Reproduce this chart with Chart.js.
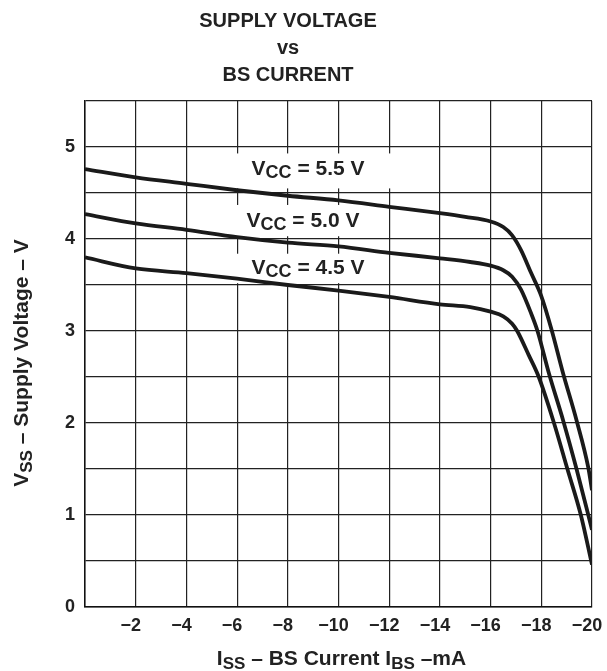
<!DOCTYPE html>
<html><head><meta charset="utf-8">
<script src="https://cdn.jsdelivr.net/npm/chart.js@4.4.1/dist/chart.umd.min.js"></script>
<style>html,body{margin:0;background:#fff}</style>
</head><body>
<canvas id="c" width="607" height="671"></canvas>
<script>
// I_BS (mA) and V_SS (V)
const iss55=[0,-2,-4,-6,-8,-10,-12,-14,-15,-16,-16.5,-16.85,-17.2,-17.6,-18,-18.4,-18.85,-19.4,-19.85,-20];
const vss55=[4.76,4.67,4.60,4.53,4.47,4.42,4.35,4.28,4.24,4.19,4.13,4.04,3.88,3.63,3.38,3.02,2.55,2.02,1.52,1.27];
const iss50=[0,-2,-4,-6,-8,-10,-12,-14,-15.2,-16,-16.5,-16.85,-17.2,-17.6,-17.85,-18.3,-18.87,-19.39,-20];
const vss50=[4.27,4.17,4.10,4.02,3.96,3.92,3.85,3.79,3.75,3.71,3.66,3.59,3.45,3.19,3.0,2.54,2.02,1.5,0.84];
const iss45=[0,-2,-4,-6,-8,-10,-12,-14,-15.2,-16,-16.5,-16.85,-17.05,-17.5,-17.9,-18.5,-19.03,-19.56,-20];
const vss45=[3.80,3.68,3.63,3.57,3.50,3.44,3.37,3.29,3.26,3.21,3.16,3.08,3.0,2.74,2.5,2.0,1.5,1.0,0.46];
const vccLabels=['5.5','5.0','4.5'];
const xTicks=[-2,-4,-6,-8,-10,-12,-14,-16,-18,-20];
const yTicks=[0,1,2,3,4,5];

const FONT='"Liberation Sans", Arial, sans-serif';
const pts=(xs,ys)=>xs.map((x,i)=>({x:x,y:ys[i]}));

// text with subscripts: parts = [text, size, drop]
function runs(ctx,parts,x,y,align){
  let w=0;
  parts.forEach(p=>{ctx.font='bold '+p[1]+'px '+FONT;w+=ctx.measureText(p[0]).width;});
  let cx = align==='center' ? x-w/2 : x;
  ctx.textAlign='left';ctx.textBaseline='middle';
  parts.forEach(p=>{
    ctx.font='bold '+p[1]+'px '+FONT;
    ctx.fillText(p[0],cx,y+p[2]);
    cx+=ctx.measureText(p[0]).width;
  });
}

const labelBoxes=[
  {x0:-5.95,x1:-12.2,y0:4.55,y1:4.93,tx:-6.57,ty:4.76},
  {x0:-5.95,x1:-11.8,y0:4.03,y1:4.37,tx:-6.37,ty:4.19},
  {x0:-5.95,x1:-11.9,y0:3.52,y1:3.84,tx:-6.57,ty:3.68}
];

const decor={
  id:'decor',
  beforeDatasetsDraw(chart){
    const {ctx,scales:{x,y}}=chart;
    ctx.save();
    labelBoxes.forEach((b,i)=>{
      ctx.fillStyle='#fff';
      const l=x.getPixelForValue(b.x0), r=x.getPixelForValue(b.x1);
      const t=y.getPixelForValue(b.y1), bt=y.getPixelForValue(b.y0);
      ctx.fillRect(l,t,r-l,bt-t);
      ctx.fillStyle='#222';
      runs(ctx,[['V',21,0],['CC',18,4],[' = '+vccLabels[i]+' V',21,0]],x.getPixelForValue(b.tx),y.getPixelForValue(b.ty),'left');
    });
    ctx.restore();
  },
  afterDraw(chart){
    const {ctx,chartArea:a}=chart;
    ctx.save();
    ctx.fillStyle='#222';
    runs(ctx,[['SUPPLY VOLTAGE',20,0]],288,21,'center');
    runs(ctx,[['vs',20,0]],288,48,'center');
    runs(ctx,[['BS CURRENT',20,0]],288,75,'center');
    runs(ctx,[['I',21,0],['SS',17,5],[' – BS Current I',21,0],['BS',17,5],[' –mA',21,0]],(a.left+a.right)/2+3,659,'center');
    ctx.translate(22,363);
    ctx.rotate(-Math.PI/2);
    runs(ctx,[['V',21,0],['SS',17,5],[' – Supply Voltage – V',21,0]],0,0,'center');
    ctx.restore();
  }
};

const line=(d)=>({data:d,showLine:true,borderColor:'#1a1a1a',borderWidth:3.8,pointRadius:0,cubicInterpolationMode:'monotone',fill:false});

new Chart(document.getElementById('c'),{
  type:'scatter',
  data:{datasets:[line(pts(iss55,vss55)),line(pts(iss50,vss50)),line(pts(iss45,vss45))]},
  options:{
    responsive:false,animation:false,
    layout:{padding:{left:0,right:15,top:101,bottom:0}},
    plugins:{legend:{display:false},tooltip:{enabled:false}},
    scales:{
      x:{type:'linear',min:-20,max:0,reverse:true,
        afterFit:s=>{s.height=64;s.paddingLeft=0;s.paddingRight=0;},
        border:{color:'#111',width:1.5},
        grid:{color:'#222',lineWidth:1.2,drawTicks:false},
        ticks:{stepSize:2,padding:8,labelOffset:-5,color:'#222',font:{family:FONT,size:18,weight:'bold'},
          callback:v=>xTicks.includes(v)?'−'+Math.abs(v):''}},
      y:{type:'linear',min:0,max:5.5,
        afterFit:s=>{s.width=85;s.paddingTop=0;s.paddingBottom=0;},
        border:{color:'#111',width:1.5},
        grid:{color:'#222',lineWidth:1.2,drawTicks:false},
        ticks:{stepSize:0.5,padding:10,color:'#222',font:{family:FONT,size:18,weight:'bold'},
          callback:v=>yTicks.includes(v)?String(v):''}}
    }
  },
  plugins:[decor]
});
</script>
</body></html>
